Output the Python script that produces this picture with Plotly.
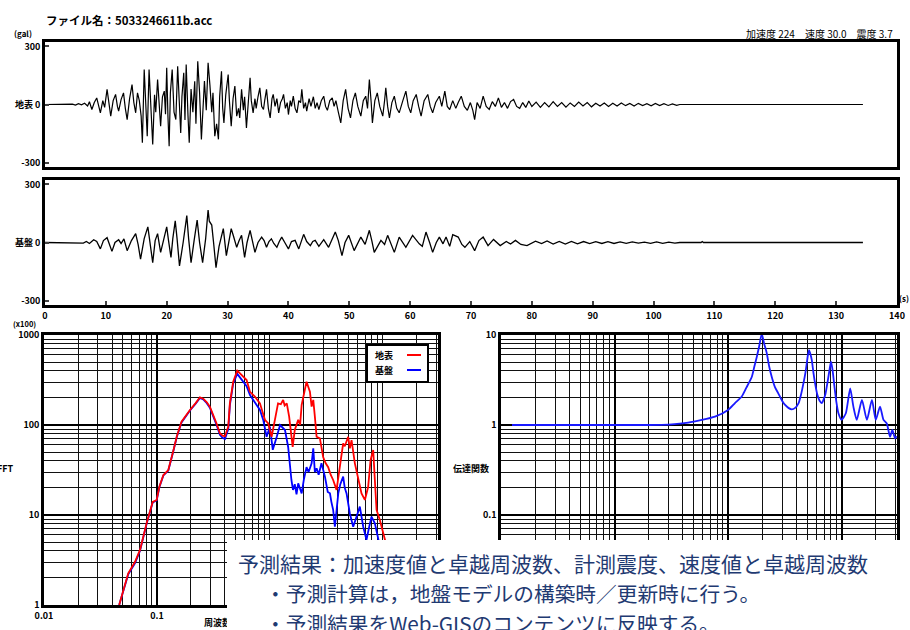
import plotly.graph_objects as go

W, H = 910, 630

# ---------------- data ----------------
# surface acceleration (地表): time (s), value (gal)
surf_t = [0, 4, 4.5, 5, 5.5, 6, 6.5, 7, 7.3, 7.7, 8.1, 8.5, 8.8, 9.1, 9.5, 9.8, 10.2, 10.5, 10.8, 11.2,
          11.6, 11.9, 12.1, 12.5, 12.9, 13.2, 13.5, 13.9, 14.3, 14.6, 14.9, 15.2, 15.5, 15.8, 16.0, 16.3,
          16.5, 16.8, 17.1, 17.4, 17.7, 18.0, 18.2, 18.5, 18.8, 19.0, 19.3, 19.6, 19.8, 20.0, 20.2, 20.4,
          20.6, 20.9, 21.2, 21.5, 21.8, 22.0, 22.3, 22.5, 22.8, 23.0, 23.2, 23.5, 23.7, 24.0, 24.3, 24.6,
          24.8, 25.1, 25.4, 25.7, 26.0, 26.2, 26.5, 26.8, 27.1, 27.4, 27.6, 27.9, 28.2, 28.5, 28.7, 29.0,
          29.2, 29.4, 29.7, 30.1, 30.3, 30.6, 30.9, 31.2, 31.5, 31.8, 32.0, 32.3, 32.6, 32.8, 33.1, 33.4,
          33.7, 33.9, 34.2, 34.5, 34.7, 35.0, 35.3, 35.6, 35.9, 36.1, 36.4, 36.7, 37.0, 37.3, 37.5, 37.8,
          38.1, 38.4, 38.7, 39.0, 39.2, 39.5, 39.8, 40.0, 40.3, 40.5, 40.8, 41.1, 41.4, 41.7, 42.0, 42.2,
          42.5, 42.8, 43.0, 43.4, 43.7, 44.1, 44.4, 44.7, 45.0, 45.4, 45.8, 46.1, 46.4, 46.8, 47.2, 47.5,
          47.8, 48.2, 48.6, 49.0, 49.4, 49.8, 50.2, 50.6, 51.0, 51.4, 51.9, 52.3, 52.7, 53.0, 53.3, 53.6,
          53.8, 54.2, 54.6, 55.0, 55.5, 55.8, 56.0, 56.3, 56.6, 57.0, 57.4, 57.8, 58.2, 58.8, 59.3, 59.7,
          60.1, 60.5, 61.0, 61.4, 61.8, 62.3, 62.9, 63.3, 63.7, 64.2, 64.8, 65.2, 65.7, 66.1, 66.5, 67.0,
          67.5, 67.9, 68.4, 68.9, 69.4, 69.9, 70.3, 70.6, 71.0, 71.5, 72.0, 72.5, 73.0, 73.5, 74.0, 74.5,
          75.0, 75.5, 76.0, 76.5, 77.0, 77.5, 78.0, 78.5, 79.0, 79.5, 80.0, 80.7, 81.4, 82.1, 82.8, 83.5,
          84.2, 84.9, 85.6, 86.3, 87.0, 87.7, 88.4, 89.1, 89.8, 90.5, 91.2, 91.9, 92.6, 93.3, 94.0, 94.7,
          95.4, 96.1, 96.8, 97.5, 98.2, 98.9, 99.6, 100.3, 101.0, 101.7, 102.4, 103.1, 103.8, 104.3, 134.4]
surf_a = [0, 0, 2, -3, 4, -2, 6, -8, 14, -26, 10, 34, -5, -43, 20, -15, 78, 10, -60, 20,
          52, -10, -34, 25, 60, -20, -78, 30, 103, 10, -43, 60, 20, -60, -198, 181,
          40, -164, 181, -30, -207, 50, -40, 129, -20, -112, 40, 69, -50, 190, -60, -216,
          60, 181, -40, -78, 198, 30, -147, 40, 164, -80, 207, -60, -198, 80, -40, 120,
          -100, 224, 60, -181, 40, 121, -30, 216, 100, -40, 60, -164, -100, -180, 40, 172,
          -20, -95, 50, 155, 20, -112, 30, 95, -60, -20, -70, 78, -30, 40, -121, 20,
          138, 20, -43, 30, -20, 40, 86, -10, -26, 20, 78, -20, -69, 30, 52, -10,
          30, -43, 10, 30, 52, -20, 10, -52, 20, -10, 43, -20, -43, 20, 10, 78,
          -20, 10, -34, 30, -10, 40, -20, 10, -26, 20, 43, -10, -30, 20, 34, -10,
          20, -40, -95, 20, 78, -20, -69, 20, 60, -10, -60, 20, 43, -20, 129, 10,
          -95, 20, 60, -10, -60, 20, 86, -10, -69, 10, 43, -20, -43, 20, 69, -10,
          -43, 20, 52, -10, -60, 20, 52, -10, -43, 10, 43, -10, 69, -10, -26, 20,
          -20, 10, 43, -10, -30, 10, -30, -78, 10, -20, 43, -10, -25, 15, -10, 34,
          -15, 10, -20, 15, 26, -10, -20, 10, -15, 18, -10, 12, -15, 10, -12, 15,
          -10, 10, -14, 8, -10, 12, -8, 10, -12, 6, -8, 8, -10, 6, -8, 8,
          -6, 5, -8, 6, -5, 4, -7, 5, -6, 4, -5, 3, -4, 0, 0]

# bedrock acceleration (基盤): time (s), value (gal)
base_t = [0, 4.2, 4.3, 6.3, 6.8, 7.3, 8.0, 8.5, 9.1, 9.6, 10.2, 10.6, 11.0, 11.5, 12.1, 12.5, 12.97, 13.5,
          14.2, 14.9, 15.3, 15.7, 16.3, 16.9, 17.3, 17.7, 18.1, 18.5, 19.0, 19.5, 20.0, 20.3, 20.7, 21.0,
          21.4, 21.7, 22.1, 22.7, 23.3, 23.6, 24.0, 24.5, 25.0, 25.4, 25.9, 26.4, 26.8, 27.0, 27.4, 27.7,
          28.1, 28.6, 29.3, 29.8, 30.2, 30.6, 31.0, 31.5, 31.9, 32.3, 32.8, 33.2, 33.7, 34.1, 34.5, 35.0,
          35.6, 36.0, 36.4, 36.8, 37.2, 37.6, 38.1, 38.5, 38.9, 39.4, 40.0, 40.5, 41.1, 41.7, 42.1, 42.5,
          43.0, 43.6, 44.0, 44.4, 45.0, 45.8, 46.6, 47.7, 48.2, 48.8, 49.3, 49.9, 50.8, 51.9, 52.6, 53.3,
          53.7, 54.1, 55.2, 55.8, 56.3, 57.4, 58.2, 59.3, 60.4, 61.5, 62.0, 62.6, 63.2, 63.7, 64.3, 64.8,
          65.4, 65.9, 66.5, 67.0, 67.9, 68.5, 69.0, 69.8, 70.6, 71.3, 72.0, 72.8, 73.7, 74.8, 75.8, 76.5,
          77.3, 78.2, 79.2, 80.6, 81.6, 82.5, 83.5, 84.5, 85.5, 86.5, 87.5, 88.5, 89.5, 90.5, 91.5, 92.5,
          93.5, 94.5, 95.5, 96.5, 97.5, 98.5, 99.5, 100.5, 101.5, 102.5, 103.5, 104.3, 107.8, 108.0, 108.2, 134.4]
base_a = [0, 0, -3, -3, 5, -5, 14, 5, -33, 10, 25, -10, -46, 0, 14, -5, 19, -42,
          10, 46, -10, -86, 20, 81, -20, -104, 10, 46, -51, 20, 81, 10, -77, 20,
          112, 20, -121, 0, 139, 20, -104, 10, 116, 0, -104, 20, 168, 110, 90, 0,
          -130, -20, 72, -68, 10, 72, 30, -25, 10, 37, -77, 0, 63, 10, -51, 0,
          28, 10, -25, 5, 19, -5, -25, 5, 28, 0, -33, 5, 11, -33, 0, 42,
          5, -16, 5, 11, -20, 15, -25, 54, 10, -68, 0, 37, -42, 28, -10, 63,
          10, -51, 11, -10, 37, -51, 28, -25, 37, -7, -20, 54, 0, -51, 0, 28,
          -7, 28, -20, 40, 28, -10, -25, 5, -42, 10, 28, -16, 16, -16, 5, -8,
          11, -10, -16, 7, -6, 8, -8, 6, -8, 6, -7, 5, -6, 4, -5, 4,
          -5, 3, -4, 3, -3, 2, -4, 3, -4, 2, -3, 0, 0, 5, 0, 0]

# Fourier spectra (x100): frequency (Hz), amplitude
fft_surf_f = [0.0463, 0.0557, 0.0638, 0.0708, 0.081, 0.0917, 0.0994, 0.105, 0.114, 0.126, 0.139, 0.150,
              0.165, 0.18, 0.196, 0.22, 0.240, 0.257, 0.275, 0.294, 0.315, 0.337, 0.361, 0.38, 0.400,
              0.428, 0.442, 0.473, 0.514, 0.562, 0.622, 0.666, 0.736, 0.816, 0.86, 0.903, 0.966, 1.035,
              1.107, 1.18, 1.25, 1.31, 1.35, 1.41, 1.48, 1.59, 1.66, 1.78, 1.85, 1.91, 2.11, 2.26, 2.34,
              2.42, 2.50, 2.59, 2.77, 2.96, 3.1, 3.28, 3.45, 3.63, 3.89, 4.0, 4.16, 4.3, 4.45, 4.6, 4.93,
              5.1, 5.28, 5.65, 6.04, 6.47, 6.93, 7.41, 7.78, 8.21, 8.49, 8.79, 9.4, 10.1, 10.8, 11.5]
fft_surf_a = [1.0, 2.25, 3.0, 4.1, 8.1, 14, 14.7, 20.6, 27.8, 31.6, 50.6, 75,
              109, 128, 147, 175, 203, 196, 180, 160, 130, 104, 81, 76, 75,
              96, 174, 303, 402, 359, 316, 234, 207, 174, 140, 114, 104, 74,
              114, 174, 170, 190, 165, 174, 124, 57, 88, 114, 100, 167, 303, 234, 160,
              190, 124, 74, 71, 44, 38, 34, 28, 24.5, 19, 25, 31.6, 50, 62.5, 58, 74,
              55, 68, 37.5, 26.7, 17.4, 14.7, 20.6, 40.8, 52.7, 24.5, 11.4, 8.8, 6.3, 4.5, 3]

fft_base_f = [0.0463, 0.0557, 0.0638, 0.0708, 0.081, 0.0917, 0.0994, 0.105, 0.114, 0.126, 0.139, 0.150,
              0.165, 0.18, 0.196, 0.22, 0.240, 0.257, 0.275, 0.294, 0.315, 0.337, 0.361, 0.38, 0.400,
              0.428, 0.442, 0.473, 0.514, 0.562, 0.622, 0.666, 0.713, 0.76, 0.816, 0.873, 0.935, 1.0,
              1.06, 1.15, 1.23, 1.36, 1.45, 1.55, 1.60, 1.66, 1.72, 1.78, 1.91, 2.0, 2.11, 2.2, 2.34,
              2.42, 2.5, 2.59, 2.7, 2.86, 3.07, 3.25, 3.40, 3.5, 3.63, 3.76, 3.9, 4.03, 4.2, 4.45, 4.6,
              4.77, 5.1, 5.46, 5.85, 6.25, 6.7, 7.16, 7.5, 7.93, 8.49, 9.08, 9.6, 10.5]
fft_base_a = [1.0, 2.2, 2.9, 4.0, 8.0, 13.8, 14.5, 20.3, 27.5, 31.2, 50, 74,
              107, 126, 145, 172, 200, 193, 176, 156, 126, 100, 78, 72, 70,
              90, 165, 290, 370, 320, 270, 215, 190, 165, 147, 114, 74, 96,
              53, 74, 100, 88, 57, 24.5, 19, 22, 17, 22.5, 17.4, 25, 34, 30, 37.5,
              55, 30, 33, 28, 37.5, 26.7, 18, 17.4, 14, 11.4, 7.4, 13, 17.4, 22, 26.7, 20,
              17.4, 10.4, 7.4, 9.6, 12.4, 7.4, 5.3, 7, 9.6, 8.1, 5.3, 4, 3]

# transfer function (伝達関数)
tf_f = [0.0125, 0.05, 0.1, 0.2, 0.3, 0.445, 0.767, 1.0, 1.15, 1.32, 1.45, 1.62, 1.70, 1.79, 1.88, 1.98,
        2.08, 2.19, 2.3, 2.43, 2.6, 2.77, 3.0, 3.18, 3.4, 3.64, 3.9, 4.17, 4.4, 4.61, 4.8, 4.93, 5.05,
        5.17, 5.3, 5.46, 5.65, 5.84, 6.1, 6.47, 6.7, 6.92, 7.2, 7.57, 7.85, 8.07, 8.3, 8.65, 9.0, 9.38,
        10.0, 10.9, 11.9, 12.7, 13.6, 15.1, 16.7, 18.5, 20.0, 21.8, 23.4, 25.0, 26.7, 28.0, 29.6, 30.5]
tf_h = [1.0, 1.0, 1.0, 1.0, 1.01, 1.06, 1.24, 1.47, 1.75, 2.07, 2.6, 3.44, 4.4, 5.7, 7.5, 10.3,
        8.0, 6.3, 4.5, 3.4, 2.6, 2.25, 1.85, 1.67, 1.55, 1.49, 1.55, 1.74, 2.2, 2.9, 3.8, 4.8, 6.0,
        6.8, 6.2, 5.3, 3.8, 2.9, 2.2, 1.82, 1.75, 1.9, 2.2, 3.16, 4.2, 5.06, 4.2, 2.67, 1.8, 1.35,
        1.14, 1.35, 2.55, 1.6, 1.14, 1.9, 1.14, 1.9, 1.14, 1.6, 1.14, 1.04, 0.74, 0.88, 0.71, 0.75]

time_ticks = [0, 10, 20, 30, 40, 50, 60, 70, 80, 90, 100, 110, 120, 130, 140]
fft_yticks = [1, 10, 100, 1000]
tf_yticks = [0.1, 1, 10]
freq_ticks = [0.01, 0.1]

# ---------------- figure ----------------
def px_x(p):
    return p / W

def px_y(p):
    return 1 - p / H

FONT = "Noto Sans CJK JP, DejaVu Sans, sans-serif"
BLUE_TXT = "#1f3a72"

fig = go.Figure()

fig.add_trace(go.Scatter(x=surf_t, y=surf_a, mode="lines", line=dict(color="black", width=1.2),
                         xaxis="x", yaxis="y", showlegend=False))
fig.add_trace(go.Scatter(x=base_t, y=base_a, mode="lines", line=dict(color="black", width=1.3),
                         xaxis="x2", yaxis="y2", showlegend=False))
fig.add_trace(go.Scatter(x=fft_base_f, y=fft_base_a, mode="lines", line=dict(color="#0000ff", width=1.8),
                         xaxis="x3", yaxis="y3", name="基盤", showlegend=False))
fig.add_trace(go.Scatter(x=fft_surf_f, y=fft_surf_a, mode="lines", line=dict(color="#ff0000", width=1.8),
                         xaxis="x3", yaxis="y3", name="地表", showlegend=False))
fig.add_trace(go.Scatter(x=tf_f, y=tf_h, mode="lines",
                         line=dict(color="#1a1aff", width=1.8, shape="spline", smoothing=0.6),
                         xaxis="x4", yaxis="y4", showlegend=False))

frame = dict(showline=True, linecolor="black", linewidth=2.5, mirror=True, zeroline=False,
             automargin=False)
tickfont = dict(family=FONT, size=9, color="black", weight="bold")

log_grid = dict(showgrid=True, gridcolor="black", gridwidth=2,
                minor=dict(showgrid=True, gridcolor="#111111", gridwidth=1, dtick="D1", ticks=""))

fig.update_layout(
    width=W, height=H, margin=dict(l=0, r=0, t=0, b=0, autoexpand=False),
    paper_bgcolor="white", plot_bgcolor="white", showlegend=False,
    xaxis=dict(domain=[px_x(45), px_x(897)], anchor="y", range=[0, 140], showticklabels=False,
               ticks="", showgrid=False, **frame),
    yaxis=dict(domain=[px_y(167), px_y(42)], anchor="x", range=[-323, 323],
               tickvals=[-300, 0, 300], ticktext=["-300", "地表 0", "300"], showgrid=False,
               ticks="inside", ticklen=4, tickwidth=1.5, tickfont=tickfont, **frame),
    xaxis2=dict(domain=[px_x(45), px_x(897)], anchor="y2", range=[0, 140], showgrid=False,
                tickvals=time_ticks, ticks="inside", ticklen=4, tickwidth=1.5,
                tickfont=tickfont, **frame),
    yaxis2=dict(domain=[px_y(305), px_y(180)], anchor="x2", range=[-323, 323], showgrid=False,
                tickvals=[-300, 0, 300], ticktext=["-300", "基盤 0", "300"],
                ticks="inside", ticklen=4, tickwidth=1.5, tickfont=tickfont, **frame),
    xaxis3=dict(domain=[px_x(44), px_x(438)], anchor="y3", type="log", range=[-2, 1.488],
                tickvals=freq_ticks, ticktext=["0.01", "0.1"], tickfont=tickfont, **frame, **log_grid),
    yaxis3=dict(domain=[px_y(605), px_y(335)], anchor="x3", type="log", range=[0, 3],
                tickvals=fft_yticks, ticktext=["1", "10", "100", "1000"], tickfont=tickfont,
                **frame, **log_grid),
    xaxis4=dict(domain=[px_x(501), px_x(897)], anchor="y4", type="log", range=[-2, 1.488],
                tickvals=[0.01, 0.1, 1, 10], showticklabels=False, **frame, **log_grid),
    yaxis4=dict(domain=[px_y(605), px_y(335)], anchor="x4", type="log", range=[-2, 1],
                tickvals=tf_yticks, ticktext=["0.1", "1", "10"], tickfont=tickfont,
                **frame, **log_grid),
)

# custom legend box in FFT panel
fig.add_shape(type="rect", xref="paper", yref="paper", x0=px_x(367), x1=px_x(428), y0=px_y(382), y1=px_y(345),
              line=dict(color="black", width=2), fillcolor="white", layer="above")
fig.add_shape(type="line", xref="paper", yref="paper", x0=px_x(407), x1=px_x(421), y0=px_y(355), y1=px_y(355),
              line=dict(color="#ff0000", width=2), layer="above")
fig.add_shape(type="line", xref="paper", yref="paper", x0=px_x(407), x1=px_x(421), y0=px_y(370), y1=px_y(370),
              line=dict(color="#0000ff", width=2), layer="above")


def note(text, x, y, size=9, xanchor="left", yanchor="middle", color="black", bold=True):
    fig.add_annotation(text=text, x=px_x(x), y=px_y(y), xref="paper", yref="paper",
                       xanchor=xanchor, yanchor=yanchor, showarrow=False,
                       font=dict(family=FONT, size=size, color=color, weight="bold" if bold else "normal"))


note("地表", 373, 355, size=9)
note("基盤", 373, 370, size=9)
note("ファイル名：5033246611b.acc", 44, 20, size=11.5)
note("(gal)", 12, 33, size=8)
note("加速度 224　速度 30.0　震度 3.7", 895, 33, size=10, xanchor="right", bold=False)
note("(s)", 897, 298, size=8)
note("(x100)", 11, 324, size=7.5)
note("FFT", 16, 468, size=9, xanchor="right")
note("伝達関数", 491, 468, size=9, xanchor="right")
note("周波数(Hz)", 202, 622, size=9)

# overlay text box
fig.add_annotation(text=" ", x=px_x(227), y=px_y(540), xref="paper", yref="paper", xanchor="left",
                   yanchor="top", showarrow=False, width=690, height=95, bgcolor="white", borderpad=0,
                   borderwidth=0)
note("予測結果：加速度値と卓越周波数、計測震度、速度値と卓越周波数", 236, 563, size=21,
     color=BLUE_TXT, bold=False)
note("・予測計算は，地盤モデルの構築時／更新時に行う。", 263, 593, size=20.7, color=BLUE_TXT, bold=False)
note("・予測結果をWeb-GISのコンテンツに反映する。", 263, 623, size=20.7, color=BLUE_TXT, bold=False)

fig.write_html("out.html", config={"displayModeBar": False},
               post_script="document.body.style.margin='0px';document.body.style.overflow='hidden';")
